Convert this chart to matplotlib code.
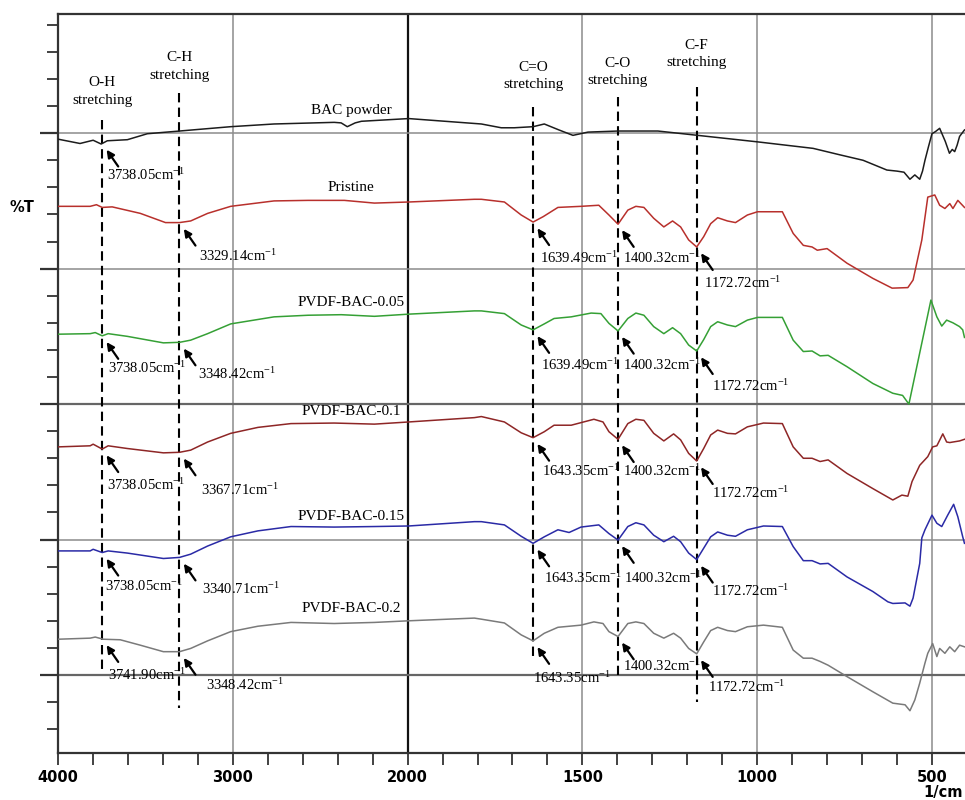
import numpy as np
import matplotlib
matplotlib.use('Agg')
import matplotlib.pyplot as plt

plt.rcParams['mathtext.default'] = 'regular'

# ---- spectra (wavenumber in 1/cm, stacked %T in arbitrary offset units) ----
bac_wn = [4000, 3874, 3799, 3753, 3718, 3603, 3489, 3305, 3012, 2764, 2420, 2380, 2345, 2300,
          2264, 1997, 1789, 1732, 1695, 1641, 1609, 1567, 1527, 1484, 1398, 1284, 1170, 999,
          840, 763, 697, 629, 600, 580, 563, 549, 535, 527, 520, 510, 500, 490, 478, 462,
          450, 442, 435, 428, 421, 407]
bac_t = [98.9, 98.1, 98.7, 98.0, 98.6, 98.8, 99.9, 100.4, 101.2, 101.7, 102.0, 101.9, 101.2, 101.9,
         102.2, 102.7, 101.7, 101.0, 101.0, 101.2, 101.7, 100.6, 99.6, 100.2, 100.4, 100.4, 99.6, 98.4,
         97.2, 96.0, 95.0, 93.2, 93.0, 92.8, 91.5, 92.3, 91.5, 93.0, 95.0, 97.5, 99.9, 100.3, 100.9, 98.5,
         96.3, 97.0, 96.6, 97.8, 99.4, 100.6]

pristine_wn = [4000, 3900, 3816, 3780, 3747, 3690, 3529, 3385, 3305, 3241, 3144, 3012, 2764, 2569,
               2362, 2190, 1997, 1809, 1789, 1723, 1675, 1641, 1612, 1570, 1504, 1453, 1424, 1398,
               1370, 1347, 1324, 1296, 1267, 1242, 1219, 1196, 1173, 1153, 1133, 1113, 1085, 1062,
               1028, 999, 928, 897, 868, 843, 828, 800, 743, 669, 614, 569, 554, 529, 512, 492,
               478, 463, 449, 440, 426, 407]
pristine_t = [86.5, 86.5, 86.5, 86.8, 86.3, 86.4, 85.2, 83.5, 83.5, 83.8, 85.2, 86.5, 87.5, 87.6,
              87.6, 87.1, 87.3, 87.8, 87.8, 87.3, 84.9, 83.6, 84.6, 86.3, 86.5, 86.7, 84.9, 83.2,
              85.8, 86.5, 86.3, 84.3, 82.7, 83.8, 82.7, 80.3, 79.0, 80.9, 83.3, 84.4, 83.8, 83.5,
              84.9, 85.5, 85.5, 81.5, 79.3, 79.0, 78.4, 78.7, 76.0, 73.2, 71.4, 71.5, 72.9, 80.3, 88.2, 88.6,
              86.7, 86.1, 87.0, 86.1, 87.6, 86.3]

b005_wn = [4000, 3816, 3787, 3747, 3713, 3603, 3397, 3305, 3241, 3144, 3012, 2764, 2569, 2379,
           2190, 1997, 1809, 1789, 1723, 1675, 1641, 1609, 1581, 1532, 1475, 1447, 1424, 1398,
           1370, 1347, 1324, 1296, 1267, 1242, 1219, 1196, 1173, 1153, 1133, 1113, 1085, 1062,
           1028, 999, 928, 897, 868, 843, 820, 797, 743, 669, 612, 584, 566, 503, 486, 472,
           458, 440, 421, 412, 407]
b005_t = [62.9, 63.0, 63.2, 62.6, 63.0, 62.5, 61.3, 61.4, 61.8, 63.0, 64.8, 66.1, 66.4, 66.5,
          66.2, 66.6, 67.2, 67.2, 66.7, 64.6, 63.7, 64.8, 65.8, 66.1, 66.8, 66.7, 64.9, 63.5,
          65.8, 66.8, 66.4, 64.3, 63.0, 64.1, 63.0, 60.9, 59.8, 61.9, 64.3, 65.2, 64.6, 64.3,
          65.5, 66.0, 66.0, 61.8, 59.7, 59.8, 58.9, 59.0, 56.9, 53.8, 52.0, 51.6, 50.0, 69.2, 66.1, 64.4,
          65.5, 65.0, 64.3, 63.7, 62.3]

b010_wn = [4000, 3816, 3799, 3747, 3713, 3603, 3397, 3305, 3241, 3144, 3012, 2856, 2667, 2420,
           2190, 1997, 1809, 1789, 1723, 1675, 1641, 1609, 1581, 1532, 1467, 1441, 1424, 1398,
           1370, 1347, 1324, 1296, 1267, 1239, 1219, 1196, 1173, 1153, 1133, 1113, 1085, 1062,
           1028, 982, 928, 897, 868, 843, 820, 797, 743, 669, 612, 586, 569, 557, 535, 512,
           498, 486, 469, 458, 449, 440, 421, 407]
b010_t = [42.1, 42.3, 42.6, 41.7, 42.3, 41.8, 41.0, 41.1, 41.5, 43.0, 44.6, 45.7, 46.4, 46.5,
          46.3, 46.7, 47.5, 47.7, 46.7, 44.7, 43.8, 44.9, 46.1, 46.1, 47.2, 46.7, 44.9, 43.5,
          46.4, 47.2, 47.0, 44.6, 43.2, 44.5, 43.4, 40.9, 39.5, 41.8, 44.3, 45.2, 44.6, 44.5,
          45.8, 46.5, 46.4, 42.1, 40.0, 40.0, 39.4, 39.7, 37.2, 34.4, 32.3, 33.2, 33.0, 35.7, 38.7, 40.3,
          42.1, 42.3, 44.5, 43.0, 42.9, 43.0, 43.2, 43.5]

b015_wn = [4000, 3816, 3799, 3747, 3713, 3603, 3397, 3305, 3241, 3144, 3012, 2856, 2667, 2420,
           2190, 1997, 1809, 1789, 1723, 1675, 1641, 1609, 1570, 1538, 1504, 1453, 1424, 1398,
           1370, 1347, 1324, 1296, 1267, 1239, 1219, 1196, 1173, 1153, 1133, 1113, 1085, 1062,
           1028, 982, 928, 897, 868, 843, 820, 797, 743, 669, 626, 612, 577, 563, 554, 535,
           529, 520, 500, 486, 472, 455, 438, 426, 412, 407]
b015_t = [22.9, 22.9, 23.2, 22.6, 22.9, 22.5, 21.5, 21.7, 22.3, 23.8, 25.5, 26.6, 27.4, 27.3,
          27.4, 27.5, 28.3, 28.3, 27.7, 25.6, 24.3, 25.5, 26.8, 26.3, 27.3, 27.7, 26.1, 24.9,
          27.4, 28.1, 27.7, 25.8, 24.6, 25.6, 24.6, 22.5, 21.3, 23.4, 25.5, 26.4, 25.8, 25.6,
          26.8, 27.5, 27.4, 23.7, 21.1, 21.1, 20.5, 20.6, 18.1, 15.4, 13.5, 13.2, 13.3, 12.7, 14.2, 20.6,
          25.3, 26.8, 29.5, 28.0, 27.4, 29.5, 31.5, 29.2, 25.5, 24.3]

b020_wn = [4000, 3816, 3787, 3741, 3644, 3529, 3397, 3305, 3241, 3144, 3012, 2856, 2667, 2420,
           2190, 1997, 1809, 1789, 1723, 1675, 1641, 1609, 1570, 1504, 1467, 1441, 1424, 1398,
           1370, 1347, 1324, 1296, 1267, 1239, 1219, 1196, 1173, 1153, 1133, 1113, 1085, 1062,
           1028, 982, 928, 897, 868, 843, 820, 797, 743, 669, 612, 577, 563, 549, 535, 520,
           512, 498, 486, 478, 463, 449, 435, 421, 407]
b020_t = [6.6, 6.8, 7.0, 6.6, 6.5, 5.5, 4.3, 4.3, 4.9, 6.3, 8.0, 9.0, 9.7, 9.5,
          9.7, 10.0, 10.5, 10.3, 9.6, 7.4, 6.3, 7.7, 8.8, 9.2, 9.8, 9.5, 8.0, 7.1,
          9.5, 9.8, 9.5, 7.7, 6.8, 7.7, 6.8, 4.9, 3.9, 6.1, 8.2, 8.8, 8.2, 8.0,
          8.9, 9.2, 8.8, 4.6, 3.1, 3.1, 2.5, 1.8, -0.3, -3.1, -5.2, -5.5, -6.6, -4.6, -1.5, 2.2,
          4.0, 5.8, 3.4, 4.9, 4.0, 5.2, 4.3, 5.5, 5.2]

names = ['BAC powder', 'Pristine', 'PVDF-BAC-0.05', 'PVDF-BAC-0.1', 'PVDF-BAC-0.15', 'PVDF-BAC-0.2']
colors = ['#1c1c1c', '#b8302c', '#35a035', '#8e2626', '#2a2aa6', '#7a7a7a']
name_y = [104.2, 90.0, 68.8, 48.7, 29.3, 12.2]
spectra = [(bac_wn, bac_t), (pristine_wn, pristine_t), (b005_wn, b005_t),
           (b010_wn, b010_t), (b015_wn, b015_t), (b020_wn, b020_t)]

# band guides: label, position, top, bottom, label centre
bands = ['O-H', 'C-H', 'C=O', 'C-O', 'C-F']
band_wn = [3747, 3305, 1641, 1399, 1173]
band_top = [102.4, 107.4, 104.8, 106.6, 108.5]
band_bot = [0.5, -6.1, 2.8, 0.0, -5.0]
band_label_y = [107.7, 112.3, 110.6, 111.3, 114.6]

# peak labels per spectrum: (band index, text, text dx px, text dy px)
peaks = [
    [(0, '3738.05', 5, 32)],
    [(1, '3329.14', 20, 33), (2, '1639.49', 7, 36), (3, '1400.32', 5, 34), (4, '1172.72', 7, 36)],
    [(0, '3738.05', 6, 32), (1, '3348.42', 19, 32), (2, '1639.49', 8, 35), (3, '1400.32', 5, 34), (4, '1172.72', 15, 35)],
    [(0, '3738.05', 5, 36), (1, '3367.71', 22, 38), (2, '1643.35', 9, 33), (3, '1400.32', 5, 32), (4, '1172.72', 15, 32)],
    [(0, '3738.05', 3, 34), (1, '3340.71', 23, 32), (2, '1643.35', 11, 35), (3, '1400.32', 6, 38), (4, '1172.72', 15, 31)],
    [(0, '3741.90', 6, 36), (1, '3348.42', 27, 33), (2, '1643.35', 0, 37), (3, '1400.32', 5, 30), (4, '1172.72', 11, 33)],
]


# instrument-style axis: scale doubles below 2000 1/cm
def fwd(w):
    w = np.asarray(w, dtype=float)
    return np.where(w >= 2000, w, 2000 - 2 * (2000 - w))


def inv(u):
    u = np.asarray(u, dtype=float)
    return np.where(u >= 2000, u, 2000 - (2000 - u) / 2)


serif = 'Liberation Serif'
fig = plt.figure(figsize=(9.65, 8), dpi=100)
ax = fig.add_axes([58 / 965, 47 / 800, 907 / 965, 739 / 800])
ax.set_xscale('function', functions=(fwd, inv))
ax.set_xlim(4000, 405.5)
ax.set_ylim(-14.4, 122)

for g in [3000, 1500, 1000, 500]:
    ax.axvline(g, color='#8c8c8c', lw=1.1, zorder=1)
ax.axvline(2000, color='#111111', lw=1.6, zorder=1)
for h in [0, 25, 50, 75, 100]:
    dark = h in (0, 50)
    ax.axhline(h, color='#666666' if dark else '#8c8c8c', lw=1.6 if dark else 1.1, zorder=1)

for (wn, t), c, n, ny in zip(spectra, colors, names, name_y):
    ax.plot(wn, t, color=c, lw=1.1, zorder=3)
    ax.text(2322, ny, n, family=serif, fontsize=11, ha='center', va='center', zorder=4)

for b, w, t0, t1, ly in zip(bands, band_wn, band_top, band_bot, band_label_y):
    ax.plot([w, w], [t0, t1], color='black', lw=1.5, ls=(0, (4.5, 2.5)), zorder=2)
    ax.text(w, ly, b + '\nstretching', family=serif, fontsize=11, ha='center', va='center',
            linespacing=1.45)

for (wn, t), plist in zip(spectra, peaks):
    for bi, lab, dx, dy in plist:
        w = band_wn[bi]
        val = np.interp(w, wn[::-1], t[::-1])
        ax.annotate('', xy=(w, val), xytext=(16, -23), textcoords='offset pixels',
                    arrowprops=dict(arrowstyle='-|>', color='black', lw=1.6,
                                    mutation_scale=11, shrinkA=0, shrinkB=5.5), zorder=5)
        ax.annotate(lab + r'cm$^{-1}$', xy=(w, val), xytext=(dx, -dy), textcoords='offset pixels',
                    family=serif, fontsize=10.5, ha='left', va='center', zorder=5)

# ticks
ax.set_xticks([4000, 3000, 2000, 1500, 1000, 500])
ax.set_xticklabels(['4000', '3000', '2000', '1500', '1000', '500'], fontsize=10.5, fontweight='bold')
minor_x = [w for w in range(3800, 2000, -200) if w != 3000] + \
          [w for w in range(1900, 400, -100) if w not in (1500, 1000, 500)]
ax.set_xticks(minor_x, minor=True)
ax.set_yticks([0, 25, 50, 75, 100])
ax.set_yticks([v for v in range(-10, 125, 5) if v % 25 != 0], minor=True)
ax.set_yticklabels([])
ax.tick_params(axis='x', which='both', direction='out', length=8.5, width=1.3, color='#333333', pad=4)
ax.tick_params(axis='y', which='major', direction='out', length=13, width=1.6, color='#333333')
ax.tick_params(axis='y', which='minor', direction='out', length=8, width=1.3, color='#333333')

for s in ['left', 'bottom', 'top']:
    ax.spines[s].set_color('#333333')
    ax.spines[s].set_linewidth(1.6)
ax.spines['right'].set_visible(False)

fig.text(22 / 965, 1 - 208 / 800, '%T', fontsize=10.5, fontweight='bold', ha='center', va='center')
fig.text(963 / 965, 1 - 793 / 800, '1/cm', fontsize=10.5, fontweight='bold', ha='right', va='center')

plt.savefig('out.png', dpi=100)
